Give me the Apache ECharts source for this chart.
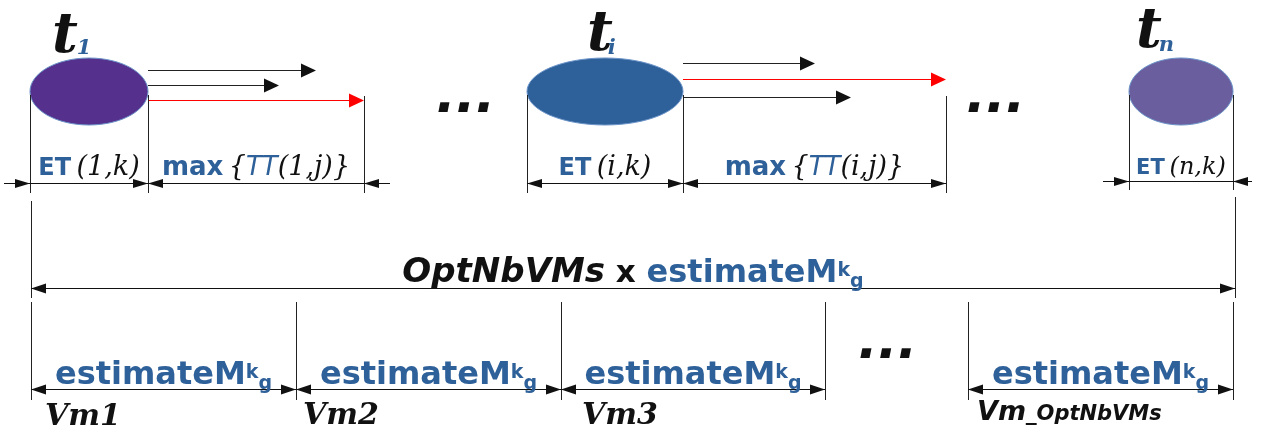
<!DOCTYPE html>
<html><head><meta charset="utf-8">
<script src="https://cdn.jsdelivr.net/npm/echarts@6/dist/echarts.min.js"></script>
<style>html,body{margin:0;padding:0;background:#fff}#c{width:1262px;height:432px}</style>
</head><body><div id="c"></div>
<script>
// ---------------- data (diagram time units on the x axis) ----------------
const taskSub = ['1', 'i', 'n'];
const taskStart = [30, 527, 1129];
const taskEnd = [148, 683, 1233];
const etArgs = ['1,k', 'i,k', 'n,k'];
const transferEnds = [[316, 279, 364], [815, 946, 851]];   // transfers of t1 and ti
const ttArgs = ['1,j', 'i,j'];
const vmNames = ['Vm1', 'Vm2', 'Vm3', 'Vm'];
const vmSubs = ['', '', '', '_OptNbVMs'];
const vmStart = [31, 296, 561, 968];
const vmEnd = [296, 561, 825, 1233];
const totalSpan = [31, 1235];

// ---------------- layout / style ----------------
const BLUE = '#2e6099', RED = '#ff0000', INK = '#111111';
const L = {
  cy: 91.5, ry: 33.5,
  taskFill: ['#55308c', '#2e6099', '#6b5e9e'], taskStroke: '#6a93c8',
  tDx: [-37, -18, -45], tBase: [52, 50, 47], subBase: [54, 54, 51], subOverlap: [1, 5, 3],
  transferRows: [[70, 85, 100], [63, 79, 97]],
  tickTop: 95, tickBot: [193, 193, 190],
  dimY: [183, 183, 181],
  dimStyle: [
    { arrows: [['s', 1], ['e', 1], ['e', -1], ['m', -1]], ext: [-26, 26] },
    { arrows: [['s', -1], ['e', 1], ['e', -1], ['m', 1]], ext: [0, 0] },
    { arrows: [['s', 1], ['e', -1]], ext: [-26, 19] }
  ],
  labelBase: [174.5, 174.5, 173.5],
  totalTickTop: [201, 197], totalTickBot: 298, totalY: 287.5, totalBase: 282,
  vmTickTop: 302, vmTickBot: 400, vmY: 389, vmBase: 383.5,
  vmLabelDx: [14, 7, 21, 9], vmLabelBase: [425, 424, 424, 420],
  dots: [[436, 112], [966, 112], [858, 358]]
};
const F = {
  tBig: 'italic bold 56px "DejaVu Serif"',
  tSub: 'italic bold 21px "DejaVu Serif"',
  etHead: 'bold 24px "DejaVu Sans"',
  etArg: 'italic 27px "DejaVu Serif"',
  etHeadS: 'bold 21px "DejaVu Sans"',
  etArgS: 'italic 24px "DejaVu Serif"',
  maxHead: 'bold 26px "DejaVu Sans"',
  tt: 'italic 26px "DejaVu Sans"',
  total: 'italic bold 34px "DejaVu Sans"',
  times: 'bold 31px "DejaVu Sans"',
  est: 'bold 32px "DejaVu Sans"',
  estSup: 'bold 19px "DejaVu Sans"',
  vm: 'italic bold 30px "DejaVu Serif"',
  vmLast: 'italic bold 27px "DejaVu Sans"',
  vmLastSub: 'italic bold 21px "DejaVu Sans"',
  dots: 'italic bold 52px "DejaVu Sans"'
};

// ---------------- helpers ----------------
const mctx = document.createElement('canvas').getContext('2d');
function tw(t, f) { mctx.font = f; mctx.textBaseline = 'alphabetic'; return mctx.measureText(t).width; }
const offCache = {};
function baseOff(f) {
  if (offCache[f] == null) {
    mctx.font = f; mctx.textBaseline = 'middle';
    offCache[f] = mctx.measureText('H').actualBoundingBoxDescent;
    mctx.textBaseline = 'alphabetic';
  }
  return offCache[f];
}
function txt(t, f, c, x, base) {
  return { type: 'text', x: x, y: base - baseOff(f),
    style: { text: t, font: f, fill: c, textFill: c, align: 'left', textAlign: 'left',
             verticalAlign: 'middle', textVerticalAlign: 'middle' } };
}
function runs(items, x, base, align) {
  const w = items.map(it => tw(it.t, it.f));
  const total = w.reduce((a, b) => a + b, 0);
  let cx = align === 'center' ? x - total / 2 : x;
  return items.map((it, k) => { const el = txt(it.t, it.f, it.c, cx, base + (it.dy || 0)); cx += w[k]; return el; });
}
const crisp = v => Math.round(v) + 0.5;
function hline(x1, x2, y, color) {
  return { type: 'line', shape: { x1: x1, y1: crisp(y), x2: x2, y2: crisp(y) }, style: { stroke: color || INK, lineWidth: 1 } };
}
function vline(x, y1, y2, color) {
  return { type: 'line', shape: { x1: crisp(x), y1: y1, x2: crisp(x), y2: y2 }, style: { stroke: color || '#222', lineWidth: 1 } };
}
function head(tip, y, dir, len, half, color) {
  const yy = crisp(y);
  return { type: 'polygon', shape: { points: [[tip, yy], [tip - dir * len, yy - half], [tip - dir * len, yy + half]] },
    style: { fill: color || INK } };
}
function estRun() {
  return [
    { t: 'estimateM', f: F.est, c: BLUE },
    { t: 'k', f: F.estSup, c: BLUE, dy: -6 },
    { t: 'g', f: F.estSup, c: BLUE, dy: 5 }
  ];
}

// ---------------- renderers ----------------
function renderTask(params, api) {
  const i = params.dataIndex;
  const a = api.coord([api.value(0), L.cy]);
  const b = api.coord([api.value(1), L.cy]);
  const r = api.coord([api.value(0), L.cy + L.ry]);
  const cx = (a[0] + b[0]) / 2;
  const py = v => api.coord([0, v])[1];
  const tx = cx + L.tDx[i];
  return { type: 'group', children: [
    { type: 'ellipse', shape: { cx: cx, cy: a[1], rx: (b[0] - a[0]) / 2, ry: r[1] - a[1] },
      style: { fill: L.taskFill[i], stroke: L.taskStroke, lineWidth: 1 } },
    txt('t', F.tBig, INK, tx, py(L.tBase[i])),
    txt(taskSub[i], F.tSub, BLUE, tx + tw('t', F.tBig) - L.subOverlap[i], py(L.subBase[i]))
  ] };
}

function renderTransfer(params, api) {
  const k = api.value(2), j = api.value(3);
  const y = L.transferRows[k][j];
  const a = api.coord([api.value(0), y]);
  const b = api.coord([api.value(1), y]);
  const isMax = api.value(1) === Math.max.apply(null, transferEnds[k]);
  const col = isMax ? RED : INK;
  return { type: 'group', children: [
    hline(a[0], b[0] - 10, a[1], isMax ? RED : '#222'),
    head(b[0], a[1], 1, 15, 7, col)
  ] };
}

function renderET(params, api) {
  const i = params.dataIndex;
  const y = L.dimY[i];
  const P = { s: api.coord([api.value(0), y]), e: api.coord([api.value(1), y]), m: api.coord([api.value(2), y]) };
  const hasMax = i < transferEnds.length;
  const top = api.coord([0, L.tickTop])[1], bot = api.coord([0, L.tickBot[i]])[1];
  const st = L.dimStyle[i];
  const ch = [vline(P.s[0], top, bot), vline(P.e[0], top, bot)];
  if (hasMax) ch.push(vline(P.m[0], top + 1, bot));
  const endX = hasMax ? P.m[0] : P.e[0];
  ch.push(hline(P.s[0] + st.ext[0], endX + st.ext[1], P.s[1]));
  st.arrows.forEach(([key, dir]) => ch.push(head(P[key][0], P.s[1], dir, 15, 4.5)));
  const base = api.coord([0, L.labelBase[i]])[1];
  const small = i === 2;
  ch.push.apply(ch, runs([
    { t: 'ET', f: small ? F.etHeadS : F.etHead, c: BLUE },
    { t: '\u2009(' + etArgs[i] + ')', f: small ? F.etArgS : F.etArg, c: INK }
  ], (P.s[0] + P.e[0]) / 2, base, 'center'));
  if (hasMax) {
    ch.push.apply(ch, runs([
      { t: 'max', f: F.maxHead, c: BLUE },
      { t: '\u2009{', f: F.etArg, c: INK },
      { t: 'TT', f: F.tt, c: BLUE },
      { t: '(' + ttArgs[i] + ')}', f: F.etArg, c: INK }
    ], (P.e[0] + P.m[0]) / 2, base, 'center'));
  }
  return { type: 'group', children: ch };
}

function renderTotal(params, api) {
  const a = api.coord([api.value(0), L.totalY]);
  const b = api.coord([api.value(1), L.totalY]);
  const bot = api.coord([0, L.totalTickBot])[1];
  const ch = [
    vline(a[0], api.coord([0, L.totalTickTop[0]])[1], bot),
    vline(b[0], api.coord([0, L.totalTickTop[1]])[1], bot),
    hline(a[0], b[0], a[1]),
    head(a[0], a[1], -1, 15, 5),
    head(b[0], a[1], 1, 15, 5)
  ];
  const base = api.coord([0, L.totalBase])[1];
  ch.push.apply(ch, runs([
    { t: 'OptNbVMs', f: F.total, c: INK },
    { t: ' x ', f: F.times, c: INK }
  ].concat(estRun()), (a[0] + b[0]) / 2, base, 'center'));
  return { type: 'group', children: ch };
}

function renderVM(params, api) {
  const i = params.dataIndex;
  const a = api.coord([api.value(0), L.vmY]);
  const b = api.coord([api.value(1), L.vmY]);
  const top = api.coord([0, L.vmTickTop])[1], bot = api.coord([0, L.vmTickBot])[1];
  const ch = [
    vline(a[0], top, bot), vline(b[0], top, bot),
    hline(a[0], b[0], a[1]),
    head(a[0], a[1], -1, 15, 5),
    head(b[0], a[1], 1, 15, 5)
  ];
  ch.push.apply(ch, runs(estRun(), (a[0] + b[0]) / 2, api.coord([0, L.vmBase])[1], 'center'));
  const lb = api.coord([0, L.vmLabelBase[i]])[1];
  if (vmSubs[i]) {
    ch.push.apply(ch, runs([
      { t: vmNames[i], f: F.vmLast, c: INK },
      { t: vmSubs[i], f: F.vmLastSub, c: INK }
    ], a[0] + L.vmLabelDx[i], lb, 'left'));
  } else {
    ch.push(txt(vmNames[i], F.vm, INK, a[0] + L.vmLabelDx[i], lb));
  }
  return { type: 'group', children: ch };
}

function renderDots(params, api) {
  const d = L.dots[params.dataIndex];
  const p = api.coord(d);
  return txt('...', F.dots, INK, p[0], p[1]);
}

// ---------------- chart ----------------
const chart = echarts.init(document.getElementById('c'), null, { renderer: 'canvas' });
const transferData = [];
transferEnds.forEach((row, k) => row.forEach((v, j) => transferData.push([taskEnd[k], v, k, j])));
chart.setOption({
  animation: false,
  backgroundColor: '#ffffff',
  grid: { left: 0, right: 0, top: 0, bottom: 0 },
  xAxis: { type: 'value', min: 0, max: 1262, show: false },
  yAxis: { type: 'value', min: 0, max: 432, inverse: true, show: false },
  series: [
    { type: 'custom', name: 'transfers', silent: true, renderItem: renderTransfer, data: transferData },
    { type: 'custom', name: 'tasks', silent: true, renderItem: renderTask,
      data: taskStart.map((s, i) => [s, taskEnd[i]]) },
    { type: 'custom', name: 'et', silent: true, renderItem: renderET,
      data: taskStart.map((s, i) => [s, taskEnd[i], i < transferEnds.length ? Math.max.apply(null, transferEnds[i]) : taskEnd[i]]) },
    { type: 'custom', name: 'total', silent: true, renderItem: renderTotal, data: [totalSpan] },
    { type: 'custom', name: 'vms', silent: true, renderItem: renderVM,
      data: vmStart.map((s, i) => [s, vmEnd[i]]) },
    { type: 'custom', name: 'dots', silent: true, renderItem: renderDots, data: L.dots.map((d, i) => [i]) }
  ]
});
</script>
</body></html>
